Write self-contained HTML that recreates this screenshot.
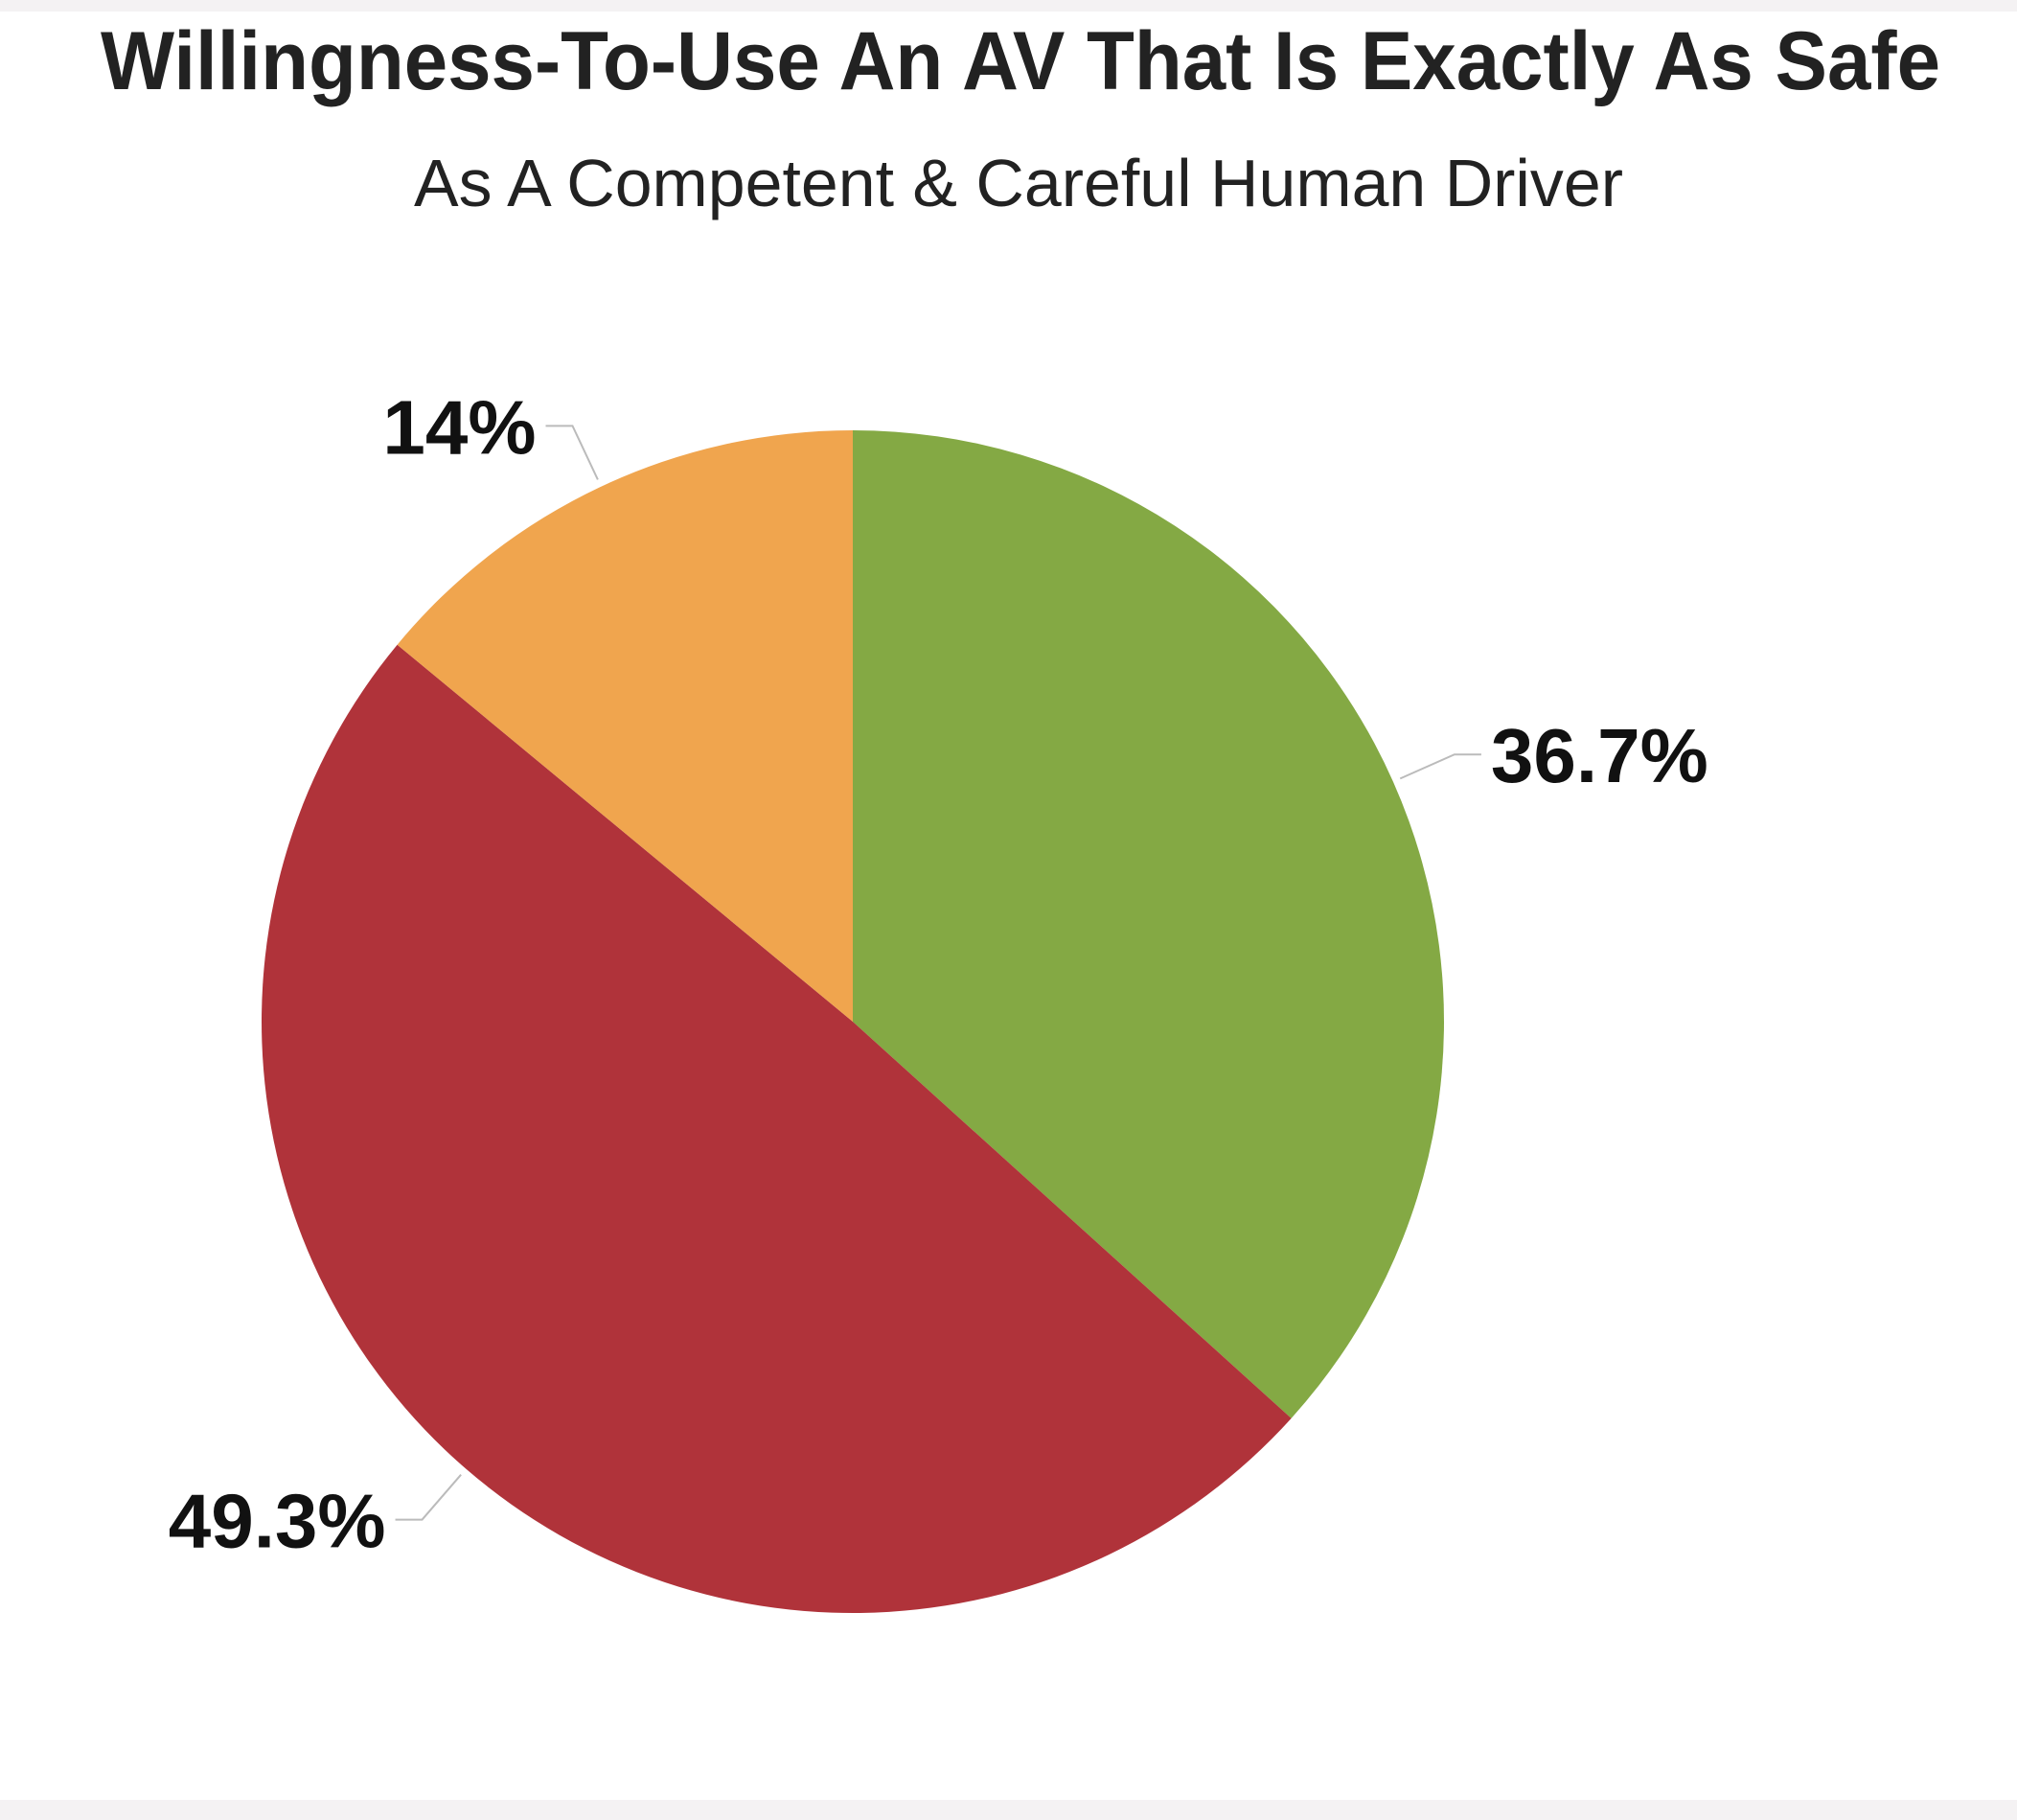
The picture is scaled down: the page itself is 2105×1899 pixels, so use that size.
<!DOCTYPE html>
<html><head><meta charset="utf-8"><style>
html,body{margin:0;padding:0;background:#fff;}
svg{display:block;}
</style></head><body>
<svg width="2105" height="1899" viewBox="0 0 2105 1899" font-family="'Liberation Sans', sans-serif">
<rect x="0" y="0" width="2105" height="1899" fill="#fff"/>
<rect x="0" y="0" width="2105" height="12" fill="#f4f2f3"/>
<rect x="0" y="1878" width="2105" height="21" fill="#f4f2f3"/>
<text x="1065" y="93" text-anchor="middle" font-size="86" font-weight="bold" fill="#222" textLength="1920" lengthAdjust="spacingAndGlyphs">Willingness-To-Use An AV That Is Exactly As Safe</text>
<text x="1063" y="215" text-anchor="middle" font-size="70" fill="#222" textLength="1262" lengthAdjust="spacingAndGlyphs">As A Competent &amp; Careful Human Driver</text>
<g id="slices"></g>
<g id="labels"></g>
</svg>
<script>
const categories = ["Willing", "Unwilling", "Unsure"];
const values = [36.7, 49.3, 14];
const valueLabels = ["36.7%", "49.3%", "14%"];
const colors = ["#84a944", "#b0333a", "#f0a54e"];
const cx = 890, cy = 1066, r = 617;
const total = values.reduce((a,b)=>a+b,0);
const ns = "http://www.w3.org/2000/svg";
const sg = document.getElementById('slices');
const lg = document.getElementById('labels');
function pt(angle, rad){ return [cx + rad*Math.sin(angle), cy - rad*Math.cos(angle)]; }
let acc = 0;
values.forEach((v,i)=>{
  const a0 = acc/total*2*Math.PI; acc += v; const a1 = acc/total*2*Math.PI;
  const p0 = pt(a0,r), p1 = pt(a1,r);
  const large = (a1-a0) > Math.PI ? 1 : 0;
  const path = document.createElementNS(ns,'path');
  path.setAttribute('d',`M${cx},${cy} L${p0[0]},${p0[1]} A${r},${r} 0 ${large} 1 ${p1[0]},${p1[1]} Z`);
  path.setAttribute('fill',colors[i]);
  
  
  sg.appendChild(path);
  const mid = (a0+a1)/2;
  const e1 = pt(mid, r+8), e2 = pt(mid, r+70);
  const right = Math.sin(mid) >= 0;
  const e3x = e2[0] + (right ? 28 : -28);
  const line = document.createElementNS(ns,'polyline');
  line.setAttribute('points',`${e1[0]},${e1[1]} ${e2[0]},${e2[1]} ${e3x},${e2[1]}`);
  line.setAttribute('fill','none');
  line.setAttribute('stroke','#bbb');
  line.setAttribute('stroke-width','2');
  
  
  lg.appendChild(line);
  const t = document.createElementNS(ns,'text');
  t.setAttribute('x', e3x + (right ? 10 : -10));
  t.setAttribute('y', e2[1] + 29);
  t.setAttribute('text-anchor', right ? 'start' : 'end');
  t.setAttribute('font-size','80');
  t.setAttribute('font-weight','bold');
  t.setAttribute('fill','#111');
  t.textContent = valueLabels[i];
  
  
  lg.appendChild(t);
});
</script>
</body></html>
